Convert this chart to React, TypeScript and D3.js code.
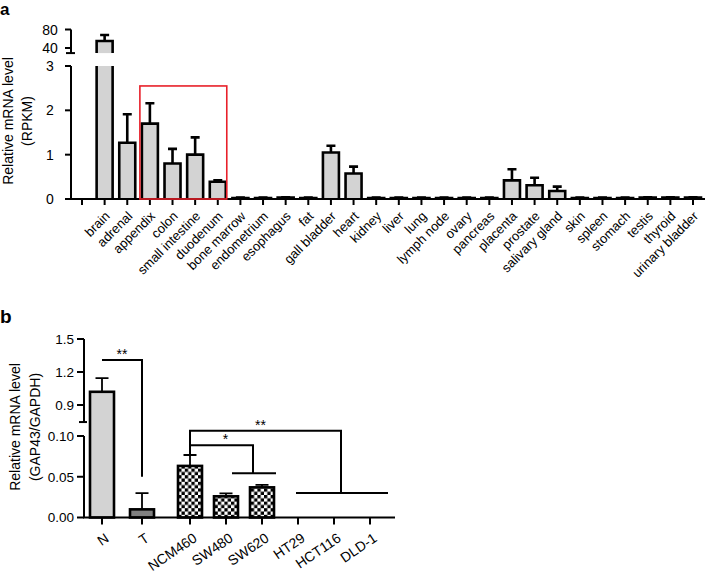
import React from "react";
import * as d3 from "d3";

// ---------- Panel a data ----------
const tissues = [
  "brain", "adrenal", "appendix", "colon", "small intestine", "duodenum",
  "bone marrow", "endometrium", "esophagus", "fat", "gall bladder", "heart",
  "kidney", "liver", "lung", "lymph node", "ovary", "pancreas", "placenta",
  "prostate", "salivary gland", "skin", "spleen", "stomach", "testis",
  "thyroid", "urinary bladder",
];
const rpkmMean = [
  55, 1.27, 1.7, 0.8, 1.0, 0.39, 0.02, 0.02, 0.03, 0.02, 1.05, 0.575, 0.02,
  0.02, 0.02, 0.02, 0.02, 0.02, 0.42, 0.31, 0.18, 0.02, 0.02, 0.02, 0.03,
  0.03, 0.03,
];
const rpkmErr = [
  13, 0.64, 0.46, 0.33, 0.39, 0.03, 0.01, 0.01, 0.01, 0.01, 0.15, 0.155, 0.01,
  0.01, 0.01, 0.01, 0.01, 0.01, 0.25, 0.17, 0.1, 0.01, 0.01, 0.01, 0.01, 0.01,
  0.01,
];
const aLowerTicks = [0, 1, 2, 3];
const aUpperTicks = [40, 80];
const highlighted = ["appendix", "duodenum"]; // red box span
const highlightTop = 2.55;

// ---------- Panel b data ----------
const tissueGroups = ["N", "T"];
const cellLines = ["NCM460", "SW480", "SW620", "HT29", "HCT116", "DLD-1"];
const gapMean = [1.02, 0.01, 0.0633, 0.026, 0.037, 0, 0, 0];
const gapErr = [0.125, 0.02, 0.0134, 0.0037, 0.003, 0, 0, 0];
const bLowerTicks = [0, 0.05, 0.1];
const bUpperTicks = [0.9, 1.2, 1.5];
const bLowerLabels = ["0.00", "0.05", "0.10"];
const bUpperLabels = ["0.9", "1.2", "1.5"];

const FONT = "'Liberation Sans', Arial, sans-serif";

export default function App() {
  // ----- Panel a scales -----
  const xA = d3.scalePoint<string>().domain(["", ...tissues]).range([82, 693]);
  const yAL = d3.scaleLinear().domain([0, 3]).range([199, 66]);
  const yAU = d3.scaleLinear().domain([40, 80]).range([48, 29.5]);
  const aUpperMin = 29;
  const axA = 71;
  const barWA = 16;

  // ----- Panel b scales -----
  const xTis = d3.scalePoint<string>().domain(tissueGroups).range([102, 142]);
  const xCell = d3.scalePoint<string>().domain(cellLines).range([190, 370]);
  const xB = (c: string) => (tissueGroups.includes(c) ? xTis(c)! : xCell(c)!);
  const yBL = d3.scaleLinear().domain([0, 0.1]).range([517.5, 436]);
  const yBU = d3.scaleLinear().domain([0.9, 1.5]).range([405, 339]);
  const bUpperMin = 0.745;
  const yB = (v: number) => (v > 0.5 ? yBU(v) : yBL(v));
  const axB = 84;
  const barWB = 24;
  const bCats = [...tissueGroups, ...cellLines];

  // panel a bars
  const aBars = tissues.map((t, i) => {
    const v = rpkmMean[i];
    const e = rpkmErr[i];
    const cx = xA(t)!;
    const l = cx - barWA / 2;
    const r = cx + barWA / 2;
    const parts: JSX.Element[] = [];
    const lowTop = yAL(Math.min(v, 3));
    parts.push(
      <rect key="lf" x={l} y={lowTop} width={barWA} height={yAL(0) - lowTop} fill="#d3d3d3" />
    );
    if (v > 3) {
      parts.push(
        <path key="lo" d={`M${l},${yAL(0)}V${lowTop}M${r},${yAL(0)}V${lowTop}`} stroke="#000" strokeWidth={2.6} fill="none" />
      );
      const uTop = yAU(v);
      const uBot = yAU(aUpperMin);
      parts.push(
        <rect key="uf" x={l} y={uTop} width={barWA} height={uBot - uTop} fill="#d3d3d3" />
      );
      parts.push(
        <path key="uo" d={`M${l},${uBot}V${uTop}H${r}V${uBot}`} stroke="#000" strokeWidth={2.6} fill="none" strokeLinejoin="miter" />
      );
      const eTop = yAU(v + e);
      parts.push(
        <path key="e" d={`M${cx},${uTop}V${eTop}M${cx - 4.5},${eTop}H${cx + 4.5}`} stroke="#000" strokeWidth={2.6} fill="none" />
      );
    } else {
      parts.push(
        <path key="o" d={`M${l},${yAL(0)}V${lowTop}H${r}V${yAL(0)}`} stroke="#000" strokeWidth={2.6} fill="none" />
      );
      const eTop = yAL(v + e);
      parts.push(
        <path key="e" d={`M${cx},${lowTop}V${eTop}M${cx - 4.5},${eTop}H${cx + 4.5}`} stroke="#000" strokeWidth={2.6} fill="none" />
      );
    }
    return <g key={t}>{parts}</g>;
  });

  // panel b bars
  const bFills = ["#d3d3d3", "#808080", "url(#checker)", "url(#checker)", "url(#checker)", "url(#checker)", "url(#checker)", "url(#checker)"];
  const bBars = bCats.map((c, i) => {
    const v = gapMean[i];
    if (v <= 0) return null;
    const cx = xB(c);
    const top = yB(v);
    const eTop = yB(v + gapErr[i]);
    return (
      <g key={c}>
        <path d={`M${cx},${top}V${eTop}M${cx - 6.5},${eTop}H${cx + 6.5}`} stroke="#000" strokeWidth={1.8} fill="none" />
        <rect x={cx - barWB / 2} y={top} width={barWB} height={yBL(0) - top} fill={bFills[i]} stroke="#000" strokeWidth={2.6} />
      </g>
    );
  });

  // significance brackets (panel b)
  const brackets: JSX.Element[] = [];
  {
    // N vs T
    const yl = yBU(1.31);
    const x1 = xB("N");
    const x2 = xB("T");
    brackets.push(
      <g key="b1">
        <path d={`M${x1},${yl}H${x2}V${yBL(0.05)}`} stroke="#000" strokeWidth={2} fill="none" />
        <text x={(x1 + x2) / 2} y={yl - 1} textAnchor="middle" fontSize={14} fontFamily={FONT}>**</text>
      </g>
    );
  }
  {
    // NCM460 vs HT29/HCT116/DLD-1
    const yl = yBL(0.1065);
    const x1 = xB("NCM460");
    const xr = xB("HCT116") + 7;
    const yLow = yBL(0.03);
    brackets.push(
      <g key="b2">
        <path d={`M${x1},${yBL(gapMean[2] + gapErr[2])}V${yl}H${xr}V${yLow}`} stroke="#000" strokeWidth={2} fill="none" />
        <path d={`M${xB("HT29") - 2},${yLow}H${xB("DLD-1") + 18}`} stroke="#000" strokeWidth={2} fill="none" />
        <text x={(x1 + xr) / 2 - 5} y={yl - 1} textAnchor="middle" fontSize={14} fontFamily={FONT}>**</text>
      </g>
    );
  }
  {
    // NCM460 vs SW480/SW620
    const yl = yBL(0.0887);
    const x1 = xB("NCM460");
    const xm = xB("SW480") + 27;
    const yLow = yBL(0.0543);
    brackets.push(
      <g key="b3">
        <path d={`M${x1},${yl}H${xm}V${yLow}`} stroke="#000" strokeWidth={2} fill="none" />
        <path d={`M${xB("SW480") + 6},${yLow}H${xB("SW620") + 14}`} stroke="#000" strokeWidth={2} fill="none" />
        <text x={(x1 + xm) / 2 + 4} y={yl - 1} textAnchor="middle" fontSize={14} fontFamily={FONT}>*</text>
      </g>
    );
  }

  const [hl1, hl2] = highlighted;

  return (
    <svg width={709} height={574} style={{ position: "absolute", left: 0, top: 0, background: "#fff" }} fontFamily={FONT}>
      <defs>
        <pattern id="checker" width={6.6} height={6.6} patternUnits="userSpaceOnUse">
          <rect width={6.6} height={6.6} fill="#fff" />
          <rect width={3.3} height={3.3} fill="#000" />
          <rect x={3.3} y={3.3} width={3.3} height={3.3} fill="#000" />
        </pattern>
      </defs>
      <rect width={709} height={574} fill="#fff" />

      {/* ================= Panel a ================= */}
      <text x={0} y={15} fontSize={17} fontWeight="bold">a</text>
      <g transform="translate(13,121) rotate(-90)">
        <text textAnchor="middle" fontSize={14}>Relative mRNA level</text>
        <text y={19} textAnchor="middle" fontSize={14}>(RPKM)</text>
      </g>

      {/* y axis lower */}
      <path d={`M${axA},${yAL(3)}V${yAL(0)}`} stroke="#000" strokeWidth={2} fill="none" />
      {aLowerTicks.map((t) => (
        <g key={`alt${t}`}>
          <path d={`M${axA - 6},${yAL(t)}H${axA}`} stroke="#000" strokeWidth={2} />
          <text x={axA - 21} y={yAL(t)} dy="0.36em" textAnchor="middle" fontSize={14}>{t}</text>
        </g>
      ))}
      {/* y axis upper */}
      <path d={`M${axA},${yAU(80)}V${yAU(aUpperMin)}`} stroke="#000" strokeWidth={2} fill="none" />
      <path d={`M${axA - 5},${yAU(aUpperMin)}H${axA + 4}`} stroke="#000" strokeWidth={2} />
      {aUpperTicks.map((t) => (
        <g key={`aut${t}`}>
          <path d={`M${axA - 6},${yAU(t)}H${axA}`} stroke="#000" strokeWidth={2} />
          <text x={axA - 21} y={yAU(t)} dy="0.36em" textAnchor="middle" fontSize={14}>{t}</text>
        </g>
      ))}

      {aBars}

      {/* x axis */}
      <path d={`M${axA - 1},${yAL(0)}H${705}`} stroke="#000" strokeWidth={2} fill="none" />
      {xA.domain().map((c, i) => (
        <path key={`axt${i}`} d={`M${xA(c)},${yAL(0)}V${yAL(0) + 6}`} stroke="#000" strokeWidth={2} />
      ))}
      {tissues.map((t) => (
        <text key={`axl${t}`} transform={`translate(${xA(t)! + 6},${yAL(0) + 18}) rotate(-45)`} textAnchor="end" fontSize={13}>
          {t}
        </text>
      ))}

      {/* red highlight box */}
      <rect
        x={xA(hl1)! - 10}
        y={yAL(highlightTop)}
        width={xA(hl2)! + 9 - (xA(hl1)! - 10)}
        height={yAL(0) - yAL(highlightTop)}
        fill="none"
        stroke="#e8202a"
        strokeWidth={1.6}
      />

      {/* ================= Panel b ================= */}
      <text x={0} y={323} fontSize={19} fontWeight="bold">b</text>
      <g transform="translate(20,427) rotate(-90)">
        <text textAnchor="middle" fontSize={14}>Relative mRNA level</text>
        <text y={20} textAnchor="middle" fontSize={14}>(GAP43/GAPDH)</text>
      </g>

      {/* y axis upper */}
      <path d={`M${axB},${yBU(1.5)}V${yBU(bUpperMin)}`} stroke="#000" strokeWidth={2} fill="none" />
      <path d={`M${axB - 5},${yBU(bUpperMin)}H${axB + 3}`} stroke="#000" strokeWidth={2} />
      {bUpperTicks.map((t, i) => (
        <g key={`but${t}`}>
          <path d={`M${axB - 7},${yBU(t)}H${axB}`} stroke="#000" strokeWidth={2} />
          <text x={axB - 10} y={yBU(t)} dy="0.36em" textAnchor="end" fontSize={13.5}>{bUpperLabels[i]}</text>
        </g>
      ))}
      {/* y axis lower */}
      <path d={`M${axB},${yBL(0.1)}V${yBL(0)}`} stroke="#000" strokeWidth={2} fill="none" />
      {bLowerTicks.map((t, i) => (
        <g key={`blt${t}`}>
          <path d={`M${axB - 7},${yBL(t)}H${axB}`} stroke="#000" strokeWidth={2} />
          <text x={axB - 10} y={yBL(t)} dy="0.36em" textAnchor="end" fontSize={13.5}>{bLowerLabels[i]}</text>
        </g>
      ))}

      {bBars}

      {/* x axis */}
      <path d={`M${axB - 1},${yBL(0)}H${395}`} stroke="#000" strokeWidth={2} fill="none" />
      {bCats.map((c) => (
        <g key={`bx${c}`}>
          <path d={`M${xB(c)},${yBL(0)}V${yBL(0) + 7}`} stroke="#000" strokeWidth={2} />
          <text transform={`translate(${xB(c) + 8},${yBL(0) + 23}) rotate(-34)`} textAnchor="end" fontSize={14}>
            {c}
          </text>
        </g>
      ))}

      {brackets}
    </svg>
  );
}
